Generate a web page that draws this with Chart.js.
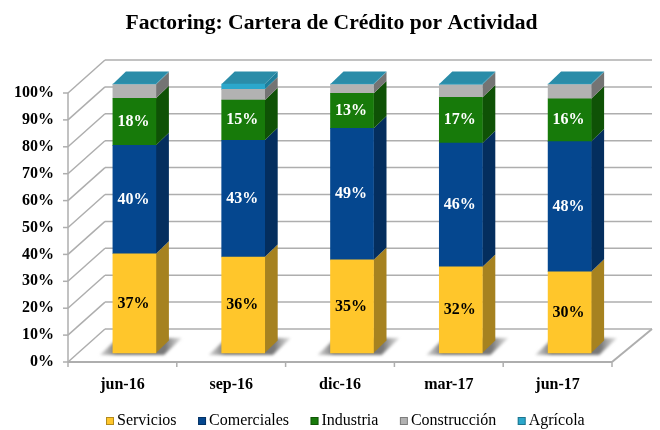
<!DOCTYPE html>
<html>
<head>
<meta charset="utf-8">
<script src="https://cdn.jsdelivr.net/npm/chart.js@4"></script>
<style>
  html, body { margin: 0; padding: 0; background: #fff; }
  canvas { display: block; }
</style>
</head>
<body>
<canvas id="carteraChart" width="660" height="430"></canvas>
<script>
const categories = ['jun-16', 'sep-16', 'dic-16', 'mar-17', 'jun-17'];
const servicios = [36.9, 35.7, 34.6, 32.0, 30.2];
const comerciales = [40.3, 43.4, 48.9, 46.0, 48.4];
const industria = [17.5, 14.9, 13.0, 17.0, 15.9];
const construccion = [5.1, 4.0, 3.3, 4.7, 5.3];
const agricola = [0.2, 2.0, 0.2, 0.3, 0.2];

const titleText = 'Factoring: Cartera de Crédito por Actividad';
const serif = '"Liberation Serif", serif';
const wallDx = 37, wallDy = -33;   // back wall offset
const barDx = 12, barDy = -9;      // bars sit inside the floor
const sideDx = 13, sideDy = -12.5; // bar depth
const gridColor = '#aeaeae';
const sideColors = ['#a68220', '#042e5e', '#0f5206', '#747474', '#1f7f9c'];
const labelColors = ['#000', '#fff', '#fff'];

function line(ctx, x1, y1, x2, y2) {
  ctx.beginPath();
  ctx.moveTo(x1, y1);
  ctx.lineTo(x2, y2);
  ctx.stroke();
}

function poly(ctx, pts, fill) {
  ctx.fillStyle = fill;
  ctx.beginPath();
  pts.forEach((p, i) => i ? ctx.lineTo(p[0], p[1]) : ctx.moveTo(p[0], p[1]));
  ctx.closePath();
  ctx.fill();
}

const box3d = {
  id: 'box3d',
  beforeDatasetsDraw(chart) {
    const { ctx, chartArea: a, scales: { y } } = chart;
    ctx.save();
    ctx.strokeStyle = gridColor;
    ctx.lineWidth = 1.5;
    y.ticks.forEach(t => {
      const py = y.getPixelForValue(t.value);
      line(ctx, a.left, py, a.left + wallDx, py + wallDy);
      line(ctx, a.left + wallDx, py + wallDy, a.right + wallDx + 3, py + wallDy);
      line(ctx, a.left - 5, py, a.left, py);
    });
    line(ctx, a.left, a.top, a.left, a.bottom);
    ctx.lineWidth = 2;
    line(ctx, a.left, a.bottom, a.right, a.bottom);
    line(ctx, a.right, a.bottom, a.right + wallDx + 3, a.bottom + wallDy);
    ctx.lineWidth = 1.5;
    for (let i = 0; i <= categories.length; i++) {
      const px = a.left + i * (a.right - a.left) / categories.length;
      line(ctx, px, a.bottom, px, a.bottom + 5);
    }
    ctx.restore();

    // everything below shares the bars' shift
    ctx.save();
    ctx.translate(barDx, barDy);
    const n = chart.data.datasets.length;
    chart.getDatasetMeta(0).data.forEach(b => {
      const l = b.x - b.width / 2, r = b.x + b.width / 2, f = b.base;
      ctx.save();
      ctx.filter = 'blur(1.5px)';
      const g = ctx.createLinearGradient(l - 13, 0, r + 26, 0);
      g.addColorStop(0, 'rgba(170,170,170,0.5)');
      g.addColorStop(0.2, 'rgba(115,115,115,1)');
      g.addColorStop(0.8, 'rgba(120,120,120,1)');
      g.addColorStop(1, 'rgba(190,190,190,0.5)');
      poly(ctx, [[l - 13, f + 2], [l + 5, f - 15], [r + 26, f - 15], [r + 8, f + 2]], g);
      ctx.restore();
    });
    for (let d = 0; d < n; d++) {
      chart.getDatasetMeta(d).data.forEach(b => {
        const r = b.x + b.width / 2;
        poly(ctx, [[r, b.base], [r + sideDx, b.base + sideDy], [r + sideDx, b.y + sideDy], [r, b.y]], sideColors[d]);
      });
    }
    chart.getDatasetMeta(n - 1).data.forEach(b => {
      const l = b.x - b.width / 2, r = b.x + b.width / 2;
      poly(ctx, [[l, b.y], [l + sideDx, b.y + sideDy], [r + sideDx, b.y + sideDy], [r, b.y]], '#2a8ca8');
    });
  },
  afterDatasetsDraw(chart) {
    const { ctx } = chart;
    ctx.font = 'bold 16px ' + serif;
    ctx.textAlign = 'center';
    ctx.textBaseline = 'middle';
    labelColors.forEach((color, d) => {
      ctx.fillStyle = color;
      chart.getDatasetMeta(d).data.forEach((b, i) => {
        const c = b.getCenterPoint();
        ctx.fillText(Math.round(chart.data.datasets[d].data[i]) + '%', c.x - 1, c.y);
      });
    });
    ctx.restore();
  },
  afterDraw(chart) {
    const { ctx } = chart;
    ctx.save();
    ctx.fillStyle = '#000';
    ctx.textBaseline = 'middle';
    ctx.textAlign = 'center';
    ctx.font = 'bold 21.6px ' + serif;
    ctx.fillText(titleText, 331.5, 23);

    // legend: swatch + name, running left to right
    ctx.textAlign = 'left';
    ctx.font = '16px ' + serif;
    let px = 106;
    chart.data.datasets.forEach(ds => {
      ctx.fillStyle = ds.backgroundColor;
      ctx.fillRect(px, 417, 8, 8);
      ctx.strokeStyle = 'rgba(0,0,0,0.3)';
      ctx.lineWidth = 1;
      ctx.strokeRect(px + 0.5, 417.5, 7, 7);
      ctx.fillStyle = '#000';
      ctx.fillText(ds.label, px + 11, 421);
      px += 11 + ctx.measureText(ds.label).width + 21.5;
    });
    ctx.restore();
  }
};

function series(label, data, color) {
  return { label, data, backgroundColor: color, barThickness: 43, clip: false };
}

new Chart(document.getElementById('carteraChart').getContext('2d'), {
  type: 'bar',
  data: {
    labels: categories,
    datasets: [
      series('Servicios', servicios, '#ffc62b'),
      series('Comerciales', comerciales, '#05478f'),
      series('Industria', industria, '#177a0a'),
      series('Construcción', construccion, '#b2b2b2'),
      series('Agrícola', agricola, '#2ba7cb')
    ]
  },
  options: {
    responsive: false,
    animation: false,
    layout: { padding: { left: 0, right: 48, top: 93, bottom: 0 } },
    plugins: {
      tooltip: { enabled: false },
      title: { display: false },
      legend: { display: false }
    },
    scales: {
      x: {
        stacked: true,
        afterFit(scale) { scale.height = 68; },
        grid: { display: false },
        border: { display: false },
        ticks: { color: '#000', font: { family: serif, size: 16, weight: 'bold' }, padding: 5, maxRotation: 0, autoSkip: false }
      },
      y: {
        stacked: true,
        min: 0,
        max: 100,
        afterFit(scale) { scale.width = 68; },
        grid: { display: false, drawTicks: false },
        border: { display: false },
        ticks: { stepSize: 10, color: '#000', font: { family: serif, size: 16, weight: 'bold' }, padding: 14, callback: v => v + '%' }
      }
    }
  },
  plugins: [box3d]
});
</script>
</body>
</html>
